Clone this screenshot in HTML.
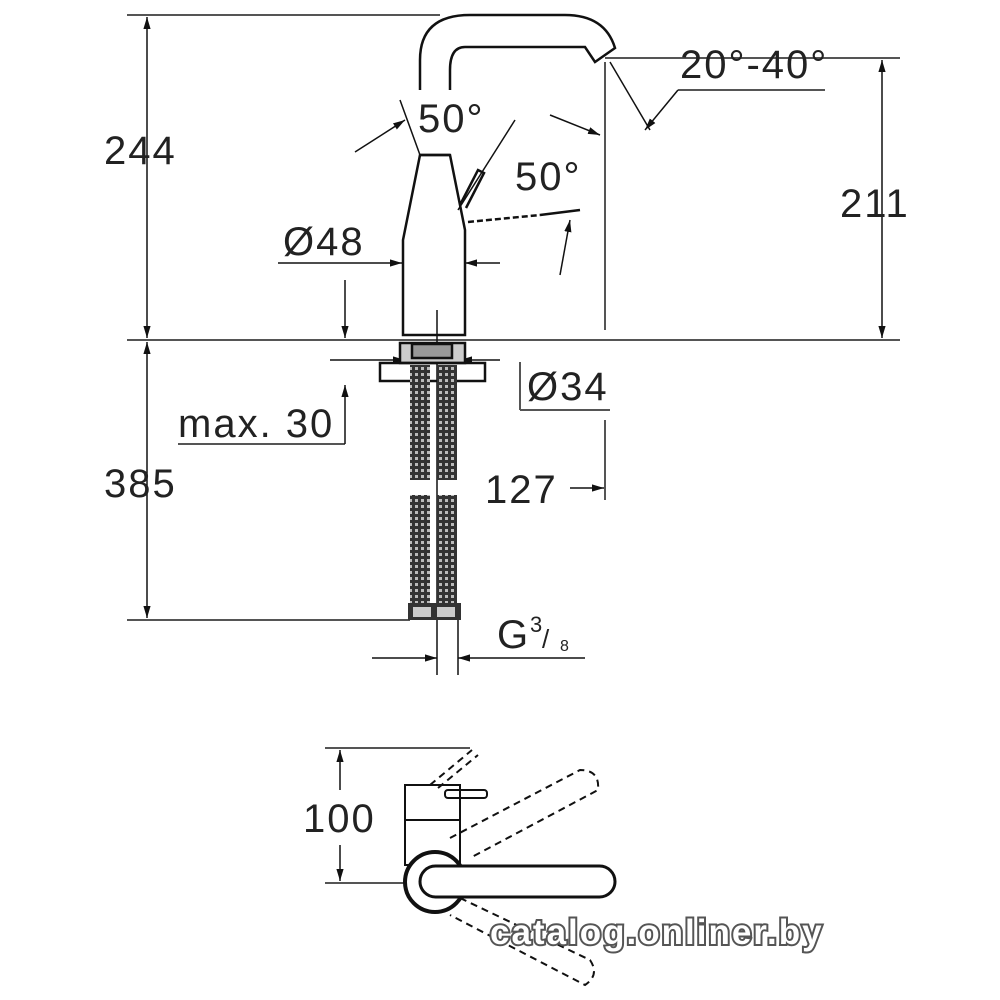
<!DOCTYPE html>
<html><head><style>
body{margin:0;background:#fff}
svg{display:block}
text{font-family:"Liberation Sans",sans-serif;fill:#222}
</style></head><body>
<svg width="1000" height="1000" viewBox="0 0 1000 1000" xmlns="http://www.w3.org/2000/svg">
<defs>
<marker id="a" viewBox="0 0 10 10" refX="10" refY="5" markerWidth="8" markerHeight="8" orient="auto-start-reverse"><path d="M0,2L10,5L0,8z" fill="#111"/></marker>
<pattern id="h" width="6" height="6" patternUnits="userSpaceOnUse"><rect width="6" height="6" fill="#333"/><rect x="1" y="1" width="3" height="3" fill="#bbb"/></pattern>
</defs>
<g stroke="#555" stroke-width="2" fill="none">
<line x1="127" y1="15" x2="440" y2="15"/>
<line x1="127" y1="340" x2="900" y2="340"/>
<line x1="127" y1="620" x2="410" y2="620"/>
<line x1="605" y1="58" x2="900" y2="58"/>
<line x1="605" y1="62" x2="605" y2="330"/>
<line x1="605" y1="420" x2="605" y2="500"/>
<line x1="325" y1="748" x2="470" y2="748"/>
<line x1="325" y1="883" x2="405" y2="883"/>
<line x1="178" y1="444" x2="345" y2="444"/>
<line x1="520" y1="362" x2="520" y2="410"/>
<line x1="520" y1="410" x2="610" y2="410"/>
<line x1="678" y1="90" x2="825" y2="90"/>
</g>
<g stroke="#111" stroke-width="1.5" fill="none">
<line x1="147" y1="17" x2="147" y2="338" marker-start="url(#a)" marker-end="url(#a)"/>
<line x1="147" y1="342" x2="147" y2="618" marker-start="url(#a)" marker-end="url(#a)"/>
<line x1="882" y1="60" x2="882" y2="338" marker-start="url(#a)" marker-end="url(#a)"/>
<line x1="340" y1="750" x2="340" y2="790" marker-start="url(#a)"/>
<line x1="340" y1="845" x2="340" y2="881" marker-end="url(#a)"/>
<line x1="278" y1="263" x2="402" y2="263" marker-end="url(#a)"/>
<line x1="500" y1="263" x2="465" y2="263" marker-end="url(#a)"/>
<line x1="345" y1="280" x2="345" y2="338" marker-end="url(#a)"/>
<line x1="345" y1="444" x2="345" y2="385" marker-end="url(#a)"/>
<line x1="330" y1="360" x2="405" y2="360" marker-end="url(#a)"/>
<line x1="500" y1="360" x2="460" y2="360" marker-end="url(#a)"/>
<line x1="570" y1="488" x2="604" y2="488" marker-end="url(#a)"/>
<line x1="372" y1="658" x2="437" y2="658" marker-end="url(#a)"/>
<line x1="585" y1="658" x2="458" y2="658" marker-end="url(#a)"/>
<line x1="355" y1="152" x2="405" y2="120" marker-end="url(#a)"/>
<line x1="550" y1="115" x2="600" y2="135" marker-end="url(#a)"/>
<line x1="645" y1="130" x2="678" y2="90" marker-start="url(#a)"/>
<line x1="560" y1="275" x2="570" y2="220" marker-end="url(#a)"/>
<line x1="400" y1="100" x2="420" y2="155"/>
<line x1="458" y1="210" x2="515" y2="120"/>
<line x1="610" y1="62" x2="650" y2="130"/>
<line x1="437" y1="310" x2="437" y2="675"/>
<line x1="458" y1="620" x2="458" y2="675"/>
</g>
<g stroke="#111" stroke-width="2.5" fill="none">
<path d="M420,90 L420,60 Q420,15 470,15 L565,15 Q605,15 615,48 L595,62 L585,47 L465,47 Q450,47 450,70 L450,90"/>
<path d="M420,155 L403,240 L403,335 L465,335 L465,230 L450,155 Z"/>
<line x1="420" y1="155" x2="450" y2="155"/>
<path d="M460,205 L478,170 L484,173 L466,208"/>
<path d="M468,222 L540,215" stroke-dasharray="6,3"/>
<line x1="540" y1="215" x2="580" y2="210"/>
<rect x="400" y="343" width="65" height="20" fill="#ccc"/>
<rect x="380" y="363" width="105" height="18"/>
<rect x="412" y="344" width="40" height="14" fill="#999"/>
</g>
<rect x="410" y="365" width="20" height="115" fill="url(#h)"/>
<rect x="437" y="365" width="20" height="115" fill="url(#h)"/>
<rect x="410" y="495" width="20" height="108" fill="url(#h)"/>
<rect x="437" y="495" width="20" height="108" fill="url(#h)"/>
<rect x="408" y="603" width="53" height="17" fill="#333"/>
<rect x="413" y="607" width="18" height="10" fill="#ccc"/>
<rect x="437" y="607" width="18" height="10" fill="#ccc"/>
<g stroke="#111" stroke-width="2" fill="none">
<rect x="405" y="785" width="55" height="35"/>
<rect x="405" y="820" width="55" height="45"/>
<rect x="445" y="790" width="42" height="8" rx="3"/>
<g stroke-dasharray="7,5">
<path d="M450,838 L580,770 Q600,770 598,790 L470,858"/>
<path d="M460,898 L590,960 Q600,975 585,985 L450,915"/>
<line x1="430" y1="785" x2="472" y2="750"/>
<line x1="438" y1="788" x2="478" y2="755"/>
</g>
<circle cx="435" cy="882" r="30" stroke-width="4" fill="#fff"/>
<rect x="420" y="866" width="195" height="31" rx="15.5" stroke-width="3" fill="#fff"/>
</g>
<g font-size="40" letter-spacing="2">
<text x="104" y="164">244</text>
<text x="104" y="497">385</text>
<text x="840" y="217">211</text>
<text x="418" y="132">50°</text>
<text x="515" y="190">50°</text>
<text x="680" y="78">20°-40°</text>
<text x="283" y="255">Ø48</text>
<text x="527" y="400">Ø34</text>
<text x="178" y="437">max. 30</text>
<text x="485" y="503">127</text>
<text x="497" y="648">G</text>
<text x="303" y="832">100</text>
</g>
<text x="530" y="632" font-size="22">3</text>
<text x="542" y="648" font-size="26">/</text>
<text x="560" y="651" font-size="16">8</text>
<text x="490" y="944" font-size="35" font-weight="bold" letter-spacing="2" style="fill:#fff;stroke:#555;stroke-width:4;paint-order:stroke">catalog.onliner.by</text>
</svg>
</body></html>
